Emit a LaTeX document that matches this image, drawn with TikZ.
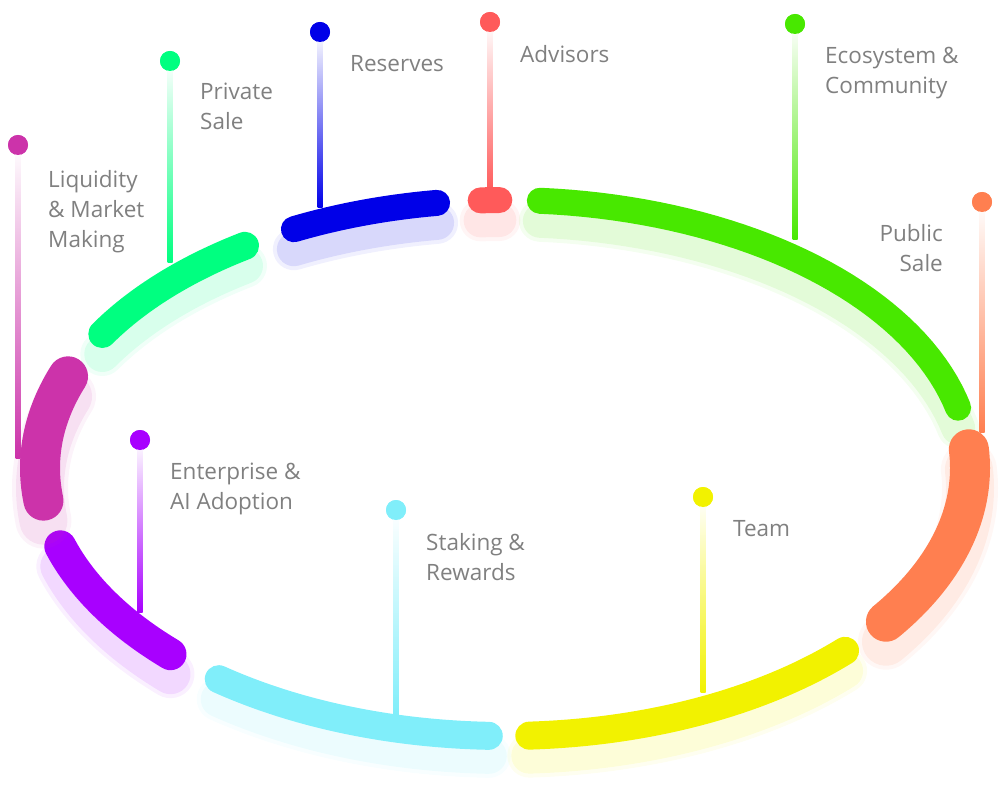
\documentclass[tikz,border=0pt]{standalone}
\usepackage{fontspec}
\setmainfont{Open Sans}
\begin{document}
\begin{tikzpicture}[x=1pt,y=-1pt,
  lbl/.style={anchor=north west,align=left,text=black!50,font=\fontsize{22.5}{30}\selectfont,inner sep=0pt},
  dotn/.style={circle,fill=#1,minimum size=20pt,inner sep=0pt},
]
\useasboundingbox (0,0) rectangle (1003,786);
\definecolor{cred}{HTML}{FF5A5A}
\definecolor{cgreen}{HTML}{48E800}
\definecolor{corange}{HTML}{FF7F50}
\definecolor{cyellow}{HTML}{F2F200}
\definecolor{ccyan}{HTML}{80EEFA}
\definecolor{cpurple}{HTML}{A800FF}
\definecolor{cmag}{HTML}{CC33AA}
\definecolor{cspring}{HTML}{00FF80}
\definecolor{cblue}{HTML}{0000E8}
\newcommand{\seg}[4]{% color, from, to, width
  \foreach \k/\o in {2/0.06,1/0.1}{
    \draw[#1,opacity=\o,line width={#4+8*\k},line cap=round]
      plot[domain=#2:#3,samples=40] ({505+465*cos(\x)},{488-268*sin(\x)});
  }
  \draw[#1,line width=#4,line cap=round]
    plot[domain=#2:#3,samples=40] ({505+465*cos(\x)},{468-268*sin(\x)});
}
\foreach \n/\c/\xa/\ya/\yb in {res/cblue/320/32/208, adv/cred/490/22/192, eco/cgreen/795/24/240,
  pub/corange/982/202/432, pri/cspring/170/61/262, liq/cmag/18/145/458,
  ent/cpurple/140/440/612, sta/ccyan/396/510/715, team/cyellow/703/497/692}{
  \node[dotn=\c] (\n) at (\xa,\ya) {};
  \coordinate (\n e) at (\xa,\yb);
  \shade[top color=white,bottom color=\c] ([xshift=-2.5pt]\n.center) rectangle ([xshift=2.5pt]\n e);
  \node[dotn=\c] at (\n) {};
}
\seg{cgreen}{85.7}{13}{26}
\seg{corange}{4}{-35}{40}
\seg{cyellow}{-43}{-87}{28}
\seg{ccyan}{-92}{-128}{28}
\seg{cpurple}{-136}{-163}{32}
\seg{cmag}{160}{187}{40}
\seg{cspring}{150}{124}{28}
\seg{cblue}{117}{98.4}{26}
\seg{cred}{93}{90.7}{26}
\node[lbl] at (350,55) {Reserves};
\node[lbl] at (520,45) {Advisors};
\node[lbl] at (825,47) {Ecosystem \&\\Community};
\node[lbl,align=right,anchor=north east] at (943,224) {Public\\Sale};
\node[lbl] at (200,83) {Private\\Sale};
\node[lbl] at (48,170) {Liquidity\\\& Market\\Making};
\node[lbl] at (170,463) {Enterprise \&\\AI Adoption};
\node[lbl] at (426,533) {Staking \&\\Rewards};
\node[lbl] at (733,520) {Team};
\end{tikzpicture}
\end{document}
